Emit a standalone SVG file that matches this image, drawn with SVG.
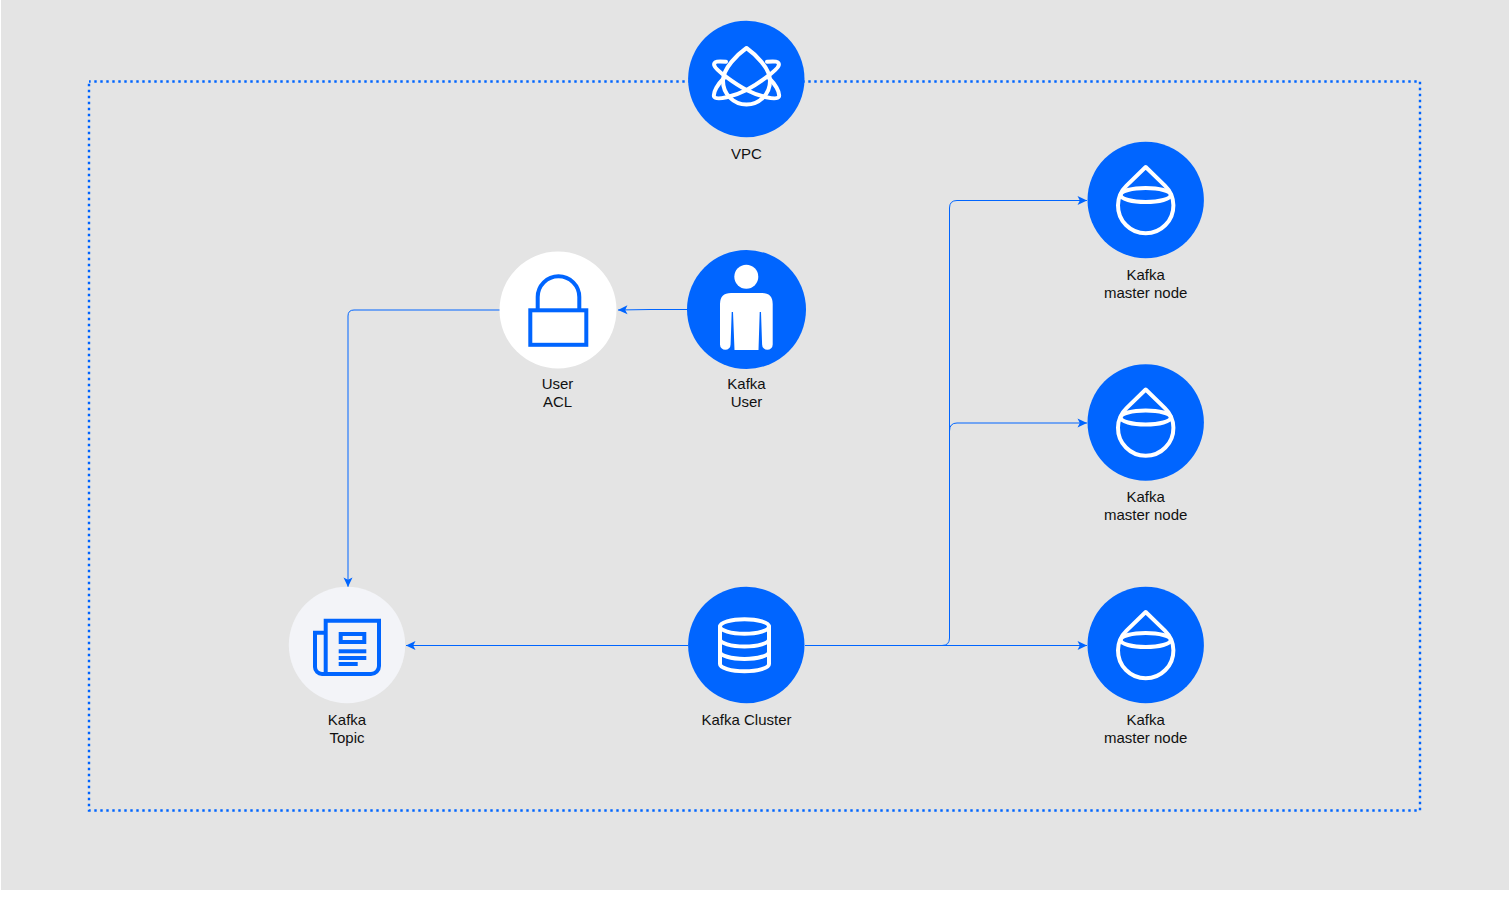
<svg xmlns="http://www.w3.org/2000/svg" width="1509" height="910" viewBox="0 0 1509 910">
<style>
text{font-family:"Liberation Sans",Arial,sans-serif;font-size:15px;fill:#111;text-anchor:middle;opacity:.999}
.conn{fill:none;stroke:#0065ff;stroke-width:1}
.boundary{fill:none;stroke:#0065ff;stroke-width:2.4;stroke-dasharray:2.4 3.6;stroke-dashoffset:.7}
.blue{fill:#0065ff}
.w{fill:none;stroke:#fff;stroke-width:4;stroke-linejoin:round;stroke-linecap:round}
.b{fill:none;stroke:#0065ff;stroke-width:4}
.bf{fill:#0065ff}
</style>
<defs>
<marker id="arrow" markerUnits="userSpaceOnUse" markerWidth="12" markerHeight="12" refX="10" refY="6" orient="auto">
<path d="M0.5 1.5 L10 6 L0.5 10.5 L2.8 6 Z" fill="#0065ff"/>
</marker>
<g id="master">
<circle cx="1145.7" cy="200" r="58.2" class="blue"/>
<path class="w" d="M1145.7 167 L1126.5 185.6 A27.7 27.7 0 1 0 1164.9 185.6 Z"/>
<ellipse class="w" cx="1145.7" cy="195" rx="25" ry="7"/>
</g>
</defs>
<rect id="background" x="1" y="0" width="1508" height="890" fill="#e4e4e4"/>
<rect id="vpc-boundary" class="boundary" x="89" y="81.5" width="1331" height="729"/>
<g id="connectors">
<path class="conn" d="M688 309.5 H650 L618 310" marker-end="url(#arrow)"/>
<path class="conn" d="M500 310 H354 Q348 310 348 316 V587" marker-end="url(#arrow)"/>
<path class="conn" d="M688 645.5 H406" marker-end="url(#arrow)"/>
<path class="conn" d="M805 645.5 H1087" marker-end="url(#arrow)"/>
<path class="conn" d="M805 645.5 H942 Q949.5 645.5 949.5 638 V208 Q949.5 200.5 957 200.5 H1087" marker-end="url(#arrow)"/>
<path class="conn" d="M949.5 431 Q949.5 423 957 423 H1087" marker-end="url(#arrow)"/>
</g>
<g id="vpc">
<circle cx="746.3" cy="79" r="58.2" class="blue"/>
<path class="w" d="M746.5 48 C738 54 723 68 723 81 A23.5 23.5 0 0 0 770 81 C770 68 755 54 746.5 48 Z"/>
<path class="w" d="M726 61.8 C719 61 713 61 714.3 65.5 C715.5 70 735 84 746.5 90 C758 96 777 101 779 96.5 C780 92 775 84 769 78"/>
<path class="w" transform="translate(1493 0) scale(-1 1)" d="M726 61.8 C719 61 713 61 714.3 65.5 C715.5 70 735 84 746.5 90 C758 96 777 101 779 96.5 C780 92 775 84 769 78"/>
<text x="746.5" y="159">VPC</text>
</g>
<g id="kafka-user">
<circle cx="746.5" cy="309.5" r="59.5" class="blue"/>
<circle cx="746.3" cy="276.8" r="12" fill="#fff"/>
<path fill="#fff" d="M720 344.5 V304 Q720 293 731 293 H762 Q772.7 293 772.7 304 V344.5 A5.3 5.3 0 0 1 762.1 344.5 L761 312 H759.7 L758.5 350 H734.5 L733 312 H731.7 L730.6 344.5 A5.3 5.3 0 0 1 720 344.5 Z"/>
<text x="746.5" y="389">Kafka</text>
<text x="746.5" y="407">User</text>
</g>
<g id="user-acl">
<circle cx="558" cy="310" r="58.5" fill="#fff"/>
<rect class="b" x="530.3" y="310.3" width="56" height="34.5"/>
<path class="b" d="M537.7 309 V297 A20.8 20.8 0 0 1 579.3 297 V309"/>
<text x="557.5" y="389">User</text>
<text x="557.5" y="407">ACL</text>
</g>
<g id="kafka-topic">
<circle cx="347" cy="645" r="58.2" fill="#f3f4f8"/>
<path class="b" d="M325.7 674 V620.7 H379 V666 A8 8 0 0 1 371 674 H322 A7 7 0 0 1 315 667 V632.7 H325.7"/>
<rect class="b" x="340.7" y="634" width="23.6" height="8"/>
<rect class="bf" x="338.7" y="649.3" width="27.6" height="4"/>
<rect class="bf" x="338.7" y="656" width="27.6" height="4"/>
<rect class="bf" x="338.7" y="662" width="19" height="4"/>
<text x="347" y="725">Kafka</text>
<text x="347" y="743">Topic</text>
</g>
<g id="kafka-cluster">
<circle cx="746.3" cy="645" r="58.2" class="blue"/>
<ellipse class="w" cx="744.5" cy="626.5" rx="24.5" ry="7.2"/>
<path class="w" d="M720 626.5 V664 A24.5 7.2 0 0 0 769 664 V626.5 M720 639.3 A24.5 7.2 0 0 0 769 639.3 M720 651.7 A24.5 7.2 0 0 0 769 651.7"/>
<text x="746.5" y="725">Kafka Cluster</text>
</g>
<g id="master-1">
<use href="#master"/>
<text x="1145.7" y="280">Kafka</text>
<text x="1145.7" y="298">master node</text>
</g>
<g id="master-2">
<use href="#master" y="222.5"/>
<text x="1145.7" y="502">Kafka</text>
<text x="1145.7" y="520">master node</text>
</g>
<g id="master-3">
<use href="#master" y="445"/>
<text x="1145.7" y="725">Kafka</text>
<text x="1145.7" y="743">master node</text>
</g>
</svg>
